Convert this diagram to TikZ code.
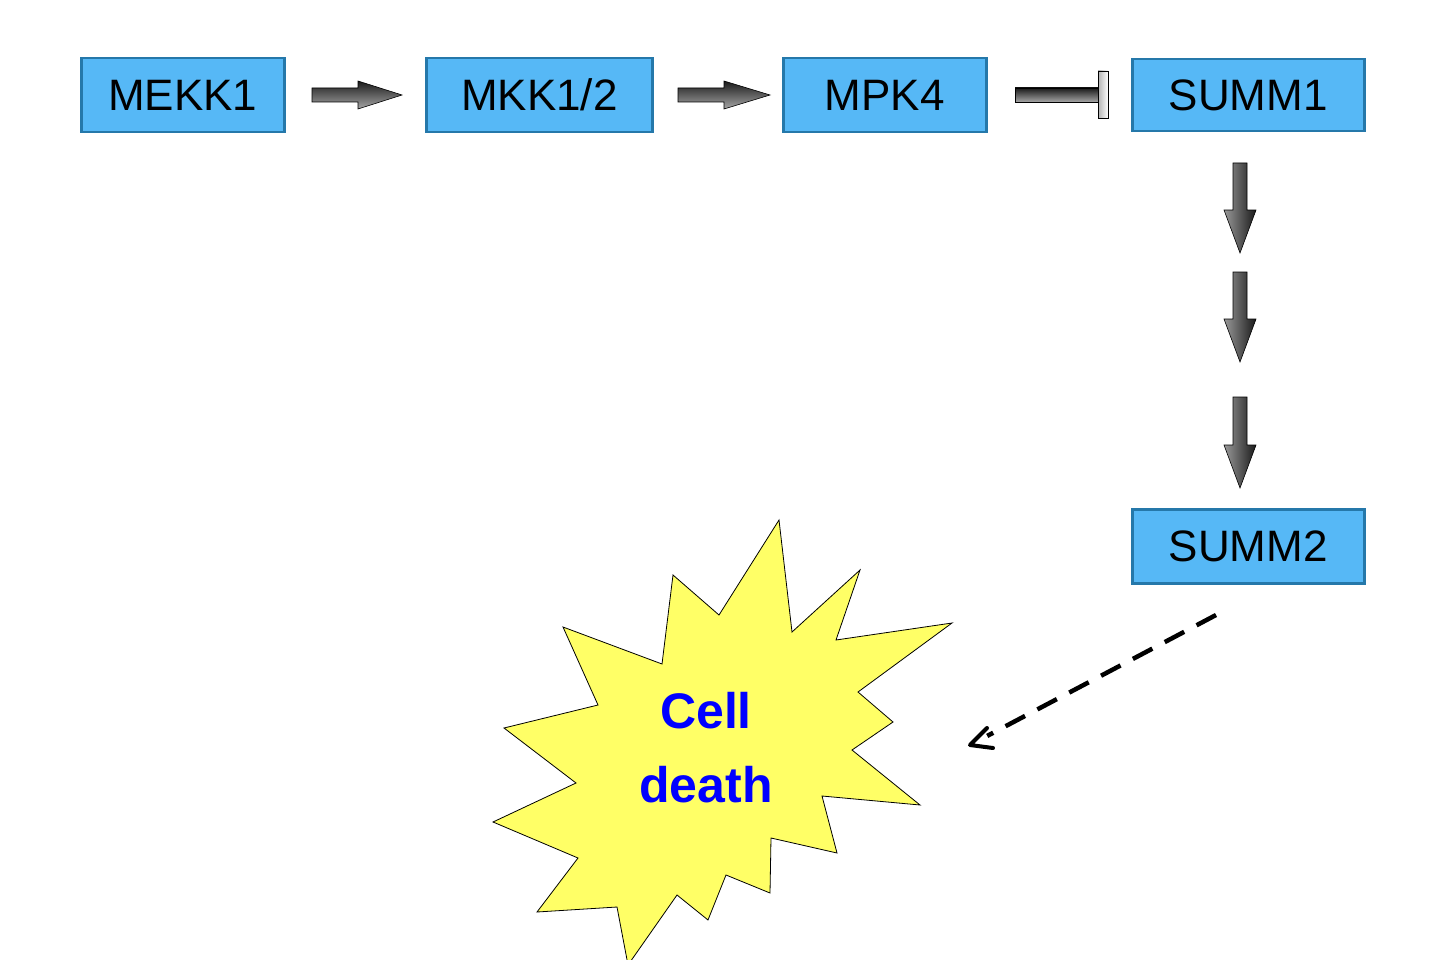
\documentclass[tikz,border=0pt]{standalone}
\usepackage{fontspec}
\setmainfont{Liberation Sans}
\usetikzlibrary{calc}
\definecolor{boxedge}{RGB}{37,120,170}
\definecolor{boxfill}{RGB}{86,184,246}
\definecolor{burst}{RGB}{255,255,102}
\begin{document}
\begin{tikzpicture}[x=1pt,y=-1pt,
 box/.style={draw=boxedge,line width=2.5pt,fill=boxfill,inner sep=0pt,anchor=north west,font=\fontsize{44}{50}\selectfont},
 harr/.style={draw=black,line width=0.6pt,top color=black!90,bottom color=black!35},
 varr/.style={draw=black,line width=0.6pt,left color=black!40,right color=black!90}]
\useasboundingbox (0,0) rectangle (1450,960);
\node[box,minimum width=203pt,minimum height=74pt] (mekk) at (80,57) {MEKK1};
\node[box,minimum width=226pt,minimum height=74pt] (mkk) at (425,57) {MKK1/2};
\node[box,minimum width=203pt,minimum height=74pt] (mpk) at (782,57) {MPK4};
\node[box,minimum width=232pt,minimum height=72pt] (s1) at (1131,58) {SUMM1};
\node[box,minimum width=232pt,minimum height=74pt] (s2) at (1131,508) {SUMM2};
% horizontal arrows
\path[harr] (312,88) -- (358,88) -- (358,81) -- (402,95) -- (358,109) -- (358,102) -- (312,102) -- cycle;
\path[harr] (678,88) -- (724,88) -- (724,81) -- (770,95) -- (724,109) -- (724,102) -- (678,102) -- cycle;
% inhibition
\path[harr] (1015,88) rectangle (1098,102);
\path[draw=black,line width=0.8pt,left color=black!30,right color=white] (1098,71) rectangle (1108,118);
% down arrows
\foreach \a/\b in {163/253,272/362,397/488}{
 \path[varr] (1233,\a) -- (1247,\a) -- (1247,\b-43) -- (1256,\b-43) -- (1240,\b) -- (1224,\b-43) -- (1233,\b-43) -- cycle;}
% burst
\begin{scope}
\clip (0,0) rectangle (1450,960);
\draw[fill=burst,line width=0.8pt] (779,520) -- (792,632) -- (860,570) -- (836,640) -- (952,623) -- (858,692) -- (893,722) -- (852,750) -- (920,805) -- (822,796) -- (837,853) -- (771,838) -- (770,893) -- (726,875) -- (708,920) -- (677,895) -- (628,965) -- (617,907) -- (537,912) -- (578,858) -- (493,822) -- (576,783) -- (504,728) -- (598,705) -- (563,627) -- (662,664) -- (673,575) -- (719,615) -- cycle;
\end{scope}
\node[align=center,text=blue,font=\fontsize{50}{74}\selectfont\bfseries] (cd) at (706,748) {Cell\\death};
\coordinate (ds) at (1216,615);
\coordinate (de) at (970,745);
\draw[line width=4.5pt,dash pattern=on 22pt off 14pt] (ds) -- ($(ds)!0.93!(de)$);
\draw[line width=4pt,line cap=round,line join=round] ($(de)+(17,-17)$) -- (de) -- ($(de)+(23,3)$);
\end{tikzpicture}
\end{document}
